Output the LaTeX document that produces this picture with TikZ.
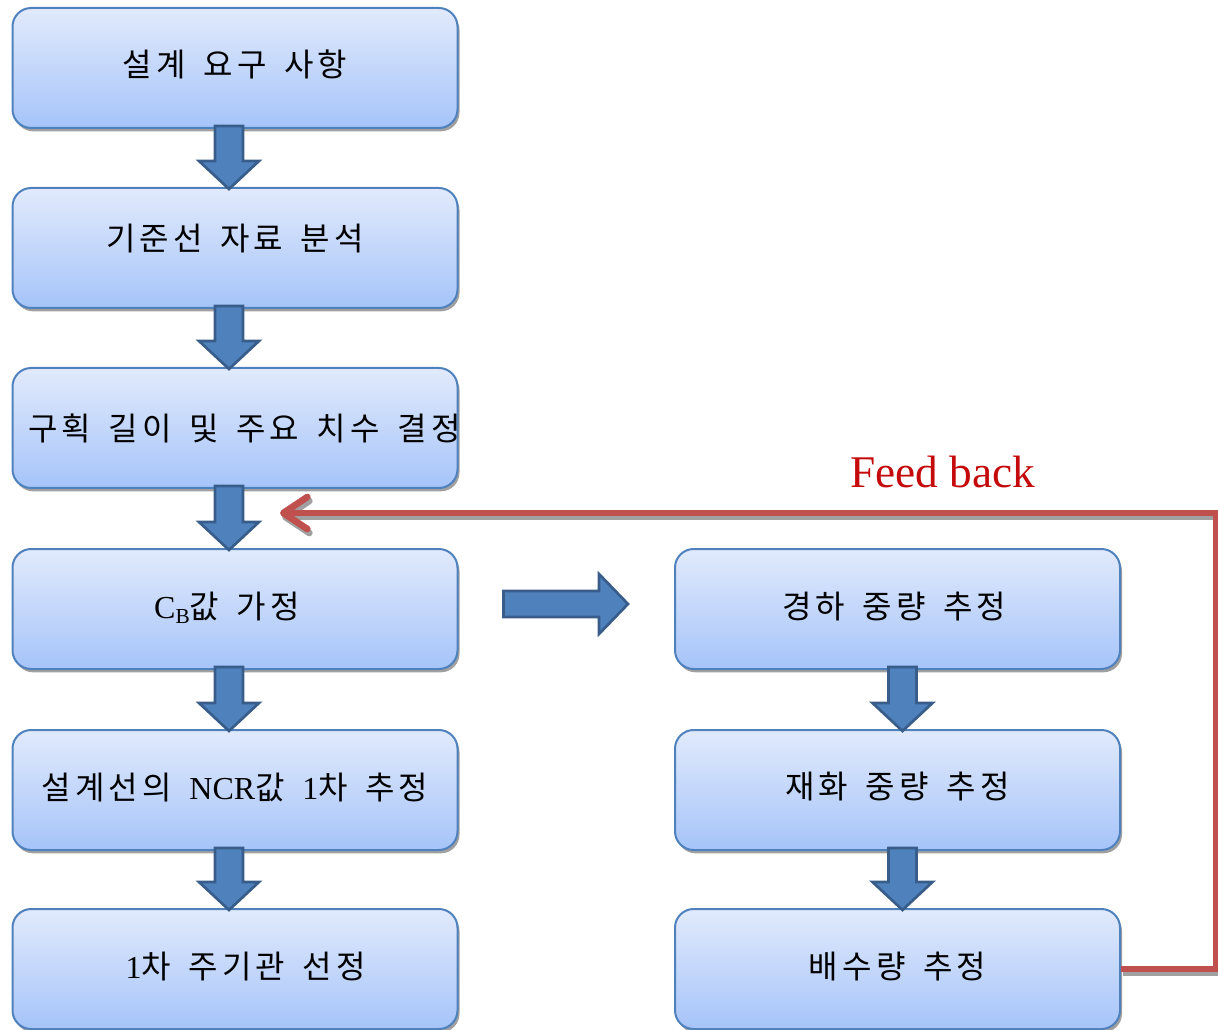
\documentclass[tikz,border=0pt]{standalone}
\usepackage{fontspec}
\setmainfont{Liberation Serif}
\newfontfamily\kr{Noto Sans CJK KR}
\usetikzlibrary{calc,shadows,arrows.meta}
% letter spacing between Hangul syllables
\XeTeXinterchartokenstate=1
\newXeTeXintercharclass\hangulclass
\count255="AC00
\loop
  \XeTeXcharclass\count255=\hangulclass
  \advance\count255 by 1
\ifnum\count255<"D7A4 \repeat
\XeTeXinterchartoks\hangulclass\hangulclass={\kern0.13em\relax}
\definecolor{boxline}{RGB}{79,129,189}
\definecolor{boxtop}{RGB}{225,234,252}
\definecolor{boxbot}{RGB}{166,196,249}
\definecolor{arrfill}{RGB}{79,129,189}
\definecolor{arrline}{RGB}{56,93,138}
\definecolor{fbred}{RGB}{192,80,77}
\definecolor{fbtext}{RGB}{196,10,10}
\definecolor{shadowgray}{RGB}{160,160,160}
\newcommand\ksp{\hspace{0.55em}}
\tikzset{
  flowbox/.style={draw=boxline, line width=1.5pt, rounded corners=14pt,
    top color=boxtop, bottom color=boxbot,
    minimum width=333.75pt, minimum height=90pt, inner sep=0pt,
    drop shadow={shadow xshift=1.5pt, shadow yshift=-2.5pt, fill=shadowgray, opacity=1},
    font=\fontsize{24}{28}\selectfont, text=black},
  blockarrow/.style={fill=arrfill, draw=arrline, line width=2pt, line join=miter},
  fbline/.style={draw=fbred, line width=5pt, line join=miter,
    -{Straight Barb[length=18pt,width=24pt,round]}},
  fbshadow/.style={draw=shadowgray, line width=5pt, line join=miter,
    -{Straight Barb[length=18pt,width=24pt,round]}}
}
% #1 from node, #2 to node, #3 horizontal offset (px)
\newcommand\dnblock[3]{%
  \draw[blockarrow] ($(#1.south)+(#3-14,-3)$) -- ($(#1.south)+(#3+14,-3)$)
    -- ($(#2.north)+(#3+14,-26)$) -- ($(#2.north)+(#3+30,-26)$)
    -- ($(#2.north)+(#3,2)$) -- ($(#2.north)+(#3-30,-26)$)
    -- ($(#2.north)+(#3-14,-26)$) -- cycle;}
\begin{document}
\begin{tikzpicture}[x=0.75pt,y=-0.75pt]
\useasboundingbox (0,0) rectangle (1218,1030);
% left column
\node[flowbox] (b1) at (235,68) {\raisebox{7pt}{\kr 설계\ksp 요구\ksp 사항}};
\node[flowbox] (b2) at (235,248) {\raisebox{16pt}{\kr 기준선\ksp 자료\ksp 분석}};
\node[flowbox] (b3) at (235,428) {\makebox[0pt][c]{\hspace*{14pt}\raisebox{-2pt}{\kr 구획\ksp 길이\ksp 및\ksp 주요\ksp 치수\ksp 결정}}};
\node[flowbox] (b4) at (235,609) {\hspace*{-12pt}\raisebox{6pt}{C\raisebox{-4pt}{\fontsize{16}{16}\selectfont B}{\kr 값\ksp 가정}}};
\node[flowbox] (b5) at (235,790) {\raisebox{5pt}{{\kr 설계선의}\ksp NCR{\kr 값}\ksp 1{\kr 차\ksp 추정}}};
\node[flowbox] (b6) at (235,969) {\hspace*{16pt}\raisebox{6pt}{1{\kr 차\ksp 주기관\ksp 선정}}};
% right column
\node[flowbox] (r1) at (897.5,609) {\hspace*{-5pt}\raisebox{6pt}{\kr 경하\ksp 중량\ksp 추정}};
\node[flowbox] (r2) at (897.5,790) {\raisebox{7pt}{\kr 재화\ksp 중량\ksp 추정}};
\node[flowbox] (r3) at (897.5,969) {\raisebox{6pt}{\kr 배수량\ksp 추정}};
% block arrows
\dnblock{b1}{b2}{-6}
\dnblock{b2}{b3}{-6}
\dnblock{b3}{b4}{-6}
\dnblock{b4}{b5}{-6}
\dnblock{b5}{b6}{-6}
\dnblock{r1}{r2}{5}
\dnblock{r2}{r3}{5}
\draw[blockarrow] ($(b4.east)+(45,-18)$) -- ($(r1.west)+(-75,-18)$)
  -- ($(r1.west)+(-75,-35)$) -- ($(r1.west)+(-46,-5)$)
  -- ($(r1.west)+(-75,25)$) -- ($(r1.west)+(-75,8)$)
  -- ($(b4.east)+(45,8)$) -- cycle;
% feedback
\coordinate (fbend) at (280,513);
\coordinate (fbcorner) at ($(r3.east)+(95,0)$);
\draw[fbshadow, transform canvas={shift={(1.5pt,-3pt)}}] (r3.east) -- (fbcorner) |- (fbend);
\draw[fbline] (r3.east) -- (fbcorner) |- (fbend);
\node[text=fbtext, font=\fontsize{34}{36}\selectfont] (fbtxt) at (943,472) {Feed back};
\end{tikzpicture}
\end{document}
